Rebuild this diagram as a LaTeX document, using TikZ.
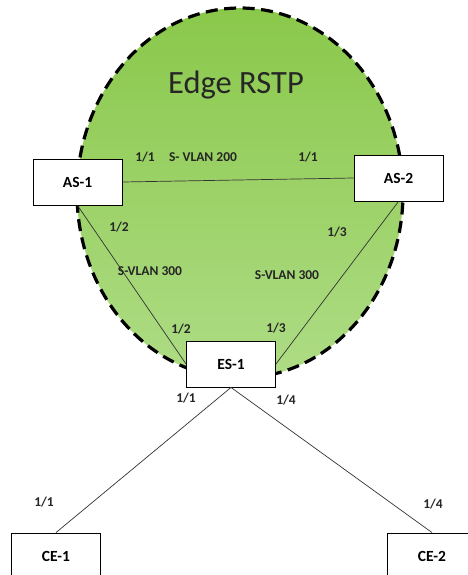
\documentclass[tikz,border=0pt]{standalone}
\usepackage{fontspec}
\setmainfont{Carlito}
\usepackage{xcolor}
\definecolor{rstptop}{HTML}{8AC84B}
\definecolor{rstpbottom}{HTML}{AEDC85}
\tikzset{
  devbox/.style={draw=black, fill=white, line width=0.9pt, minimum width=89pt, minimum height=46pt, inner sep=0pt, font=\fontsize{15.5}{17}\selectfont\bfseries},
  port/.style={inner sep=0pt, text=black!85, font=\fontsize{13.5}{15}\selectfont\bfseries},
  link/.style={draw=black!80, line width=0.7pt},
  region/.style={draw=black, line width=3.2pt, dash pattern=on 12pt off 6.5pt, top color=rstptop, bottom color=rstpbottom}
}

\begin{document}
\begin{tikzpicture}[x=1pt, y=-1pt]
\useasboundingbox (0,0) rectangle (468,575);
% RSTP region
\path[region] (240,193) ellipse [x radius=163pt, y radius=185pt];
\node[text=black!85, font=\fontsize{32.5}{36}\selectfont] (title) at (236,85) {Edge RSTP};
% switches
\node[devbox] (as1) at (77.5,182) {AS-1};
\node[devbox] (as2) at (398.5,178) {AS-2};
\node[devbox] (es1) at (231,364) {ES-1};
\node[devbox] (ce1) at (56,556) {CE-1};
\node[devbox] (ce2) at (432,556) {CE-2};
% links
\draw[link] (as1.east) -- (as2.west);
\draw[link] (as1.south) -- (es1.west);
\draw[link] (as2.south) -- (es1.east);
\draw[link] (es1.south) -- (ce1.north);
\draw[link] (es1.south) -- (ce2.north);
% ports and vlans
\node[port] (p-as1-a) at (145,157) {1/1};
\node[port] (vlan200) at (203,157) {S- VLAN 200};
\node[port] (p-as2-a) at (308,157) {1/1};
\node[port] (p-as1-b) at (119,227) {1/2};
\node[port] (p-as2-b) at (337,232) {1/3};
\node[port] (vlan300a) at (150,271) {S-VLAN 300};
\node[port] (vlan300b) at (287,275) {S-VLAN 300};
\node[port] (p-es1-a) at (181,329) {1/2};
\node[port] (p-es1-b) at (276,328) {1/3};
\node[port] (p-es1-c) at (186,398) {1/1};
\node[port] (p-es1-d) at (286,400) {1/4};
\node[port] (p-ce1) at (44,502) {1/1};
\node[port] (p-ce2) at (433,504) {1/4};
\end{tikzpicture}
\end{document}
